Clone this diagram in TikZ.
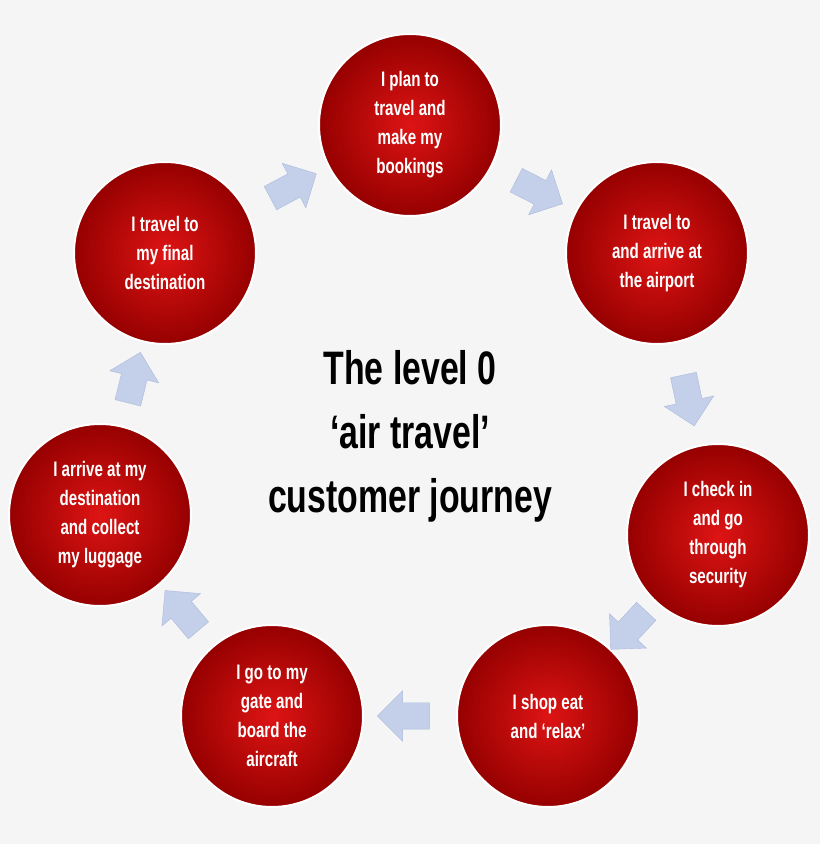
\documentclass[tikz,border=0pt]{standalone}
\usepackage{fontspec}
\setmainfont{Liberation Sans}[FakeStretch=0.72]
\usetikzlibrary{shapes.arrows}
\usetikzlibrary{calc}

\begin{document}
\begin{tikzpicture}[x=1pt, y=1pt,
  stage/.style={circle, minimum size=182pt, draw=white, line width=2pt,
    shading=radial, inner color={rgb,255:red,222;green,20;blue,20},
    outer color={rgb,255:red,150;green,0;blue,0},
    text=white, font=\bfseries\fontsize{21}{29}\selectfont, align=center},
  flow/.style={single arrow, fill={rgb,255:red,196;green,208;blue,234},
    draw={rgb,255:red,170;green,185;blue,220}, minimum height=52pt,
    minimum width=50pt, single arrow head extend=12pt, inner sep=13pt,
    single arrow tip angle=90}]

\fill[white!96!black] (0, 0) rectangle (820, 844);

\node[stage] (plan) at (410, 719) {I plan to\\travel and\\make my\\bookings};
\node[stage] (airport) at (657, 591) {I travel to\\and arrive at\\the airport};
\node[stage] (checkin) at (718, 309) {I check in\\and go\\through\\security};
\node[stage] (shop) at (548, 128) {I shop eat\\and `relax'};
\node[stage] (gate) at (272, 128) {I go to my\\gate and\\board the\\aircraft};
\node[stage] (arrive) at (100, 329) {I arrive at my\\destination\\and collect\\my luggage};
\node[stage] (final) at (165, 591) {I travel to\\my final\\destination};

\node[font=\bfseries\fontsize{47}{64}\selectfont, align=center] (title) at (410, 408)
  {The level 0\\`air travel'\\customer journey};

\node[flow, rotate=-27] (a1) at ($(plan)!0.5!(airport)$) {};
\node[flow, rotate=-78] (a2) at ($(airport)!0.5!(checkin)$) {};
\node[flow, rotate=-133] (a3) at ($(checkin)!0.5!(shop)$) {};
\node[flow, rotate=180] (a4) at ($(shop)!0.5!(gate)$) {};
\node[flow, rotate=130] (a5) at ($(gate)!0.5!(arrive)$) {};
\node[flow, rotate=76] (a6) at ($(arrive)!0.5!(final)$) {};
\node[flow, rotate=28] (a7) at ($(final)!0.5!(plan)$) {};

\end{tikzpicture}
\end{document}
